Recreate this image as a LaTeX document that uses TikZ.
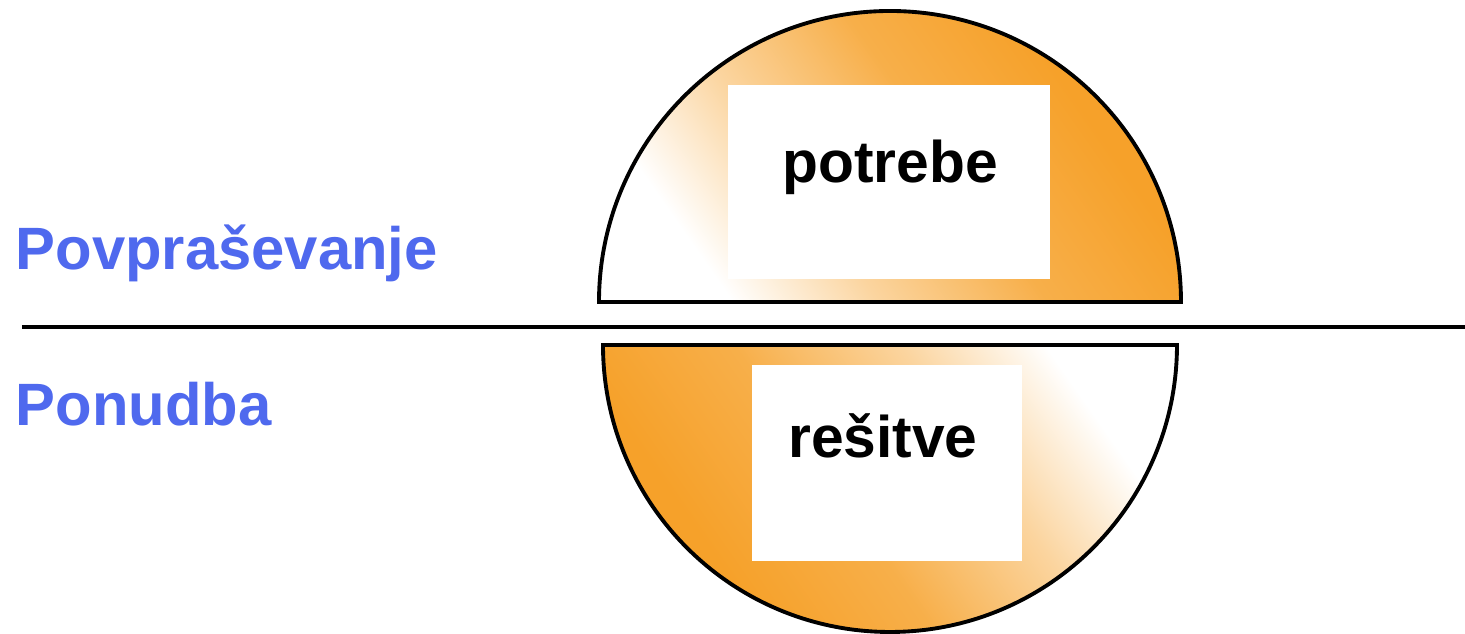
\documentclass[tikz,border=0pt]{standalone}
\usepackage{fontspec}
\setmainfont{Liberation Sans}
\usepackage{tikz}
\usetikzlibrary{positioning}
\definecolor{ddorange}{HTML}{F6A12A}
\definecolor{ddblue}{HTML}{4F69EE}
% white corner that turns orange quickly
\pgfdeclareverticalshading{glow}{100bp}{color(0bp)=(white); color(27bp)=(white);
  color(40bp)=(ddorange!45); color(55bp)=(ddorange!85); color(70bp)=(ddorange);
  color(100bp)=(ddorange)}
\pgfdeclareverticalshading{fade}{100bp}{color(0bp)=(ddorange); color(30bp)=(ddorange);
  color(45bp)=(ddorange!85); color(60bp)=(ddorange!45); color(73bp)=(white);
  color(100bp)=(white)}
\tikzset{
  halfdisk/.style={draw=black, line width=1.1pt},
  card/.style={fill=white, draw=none, inner sep=0pt},
  word/.style={font=\fontsize{16.7pt}{20pt}\selectfont\bfseries, inner sep=0pt},
  side/.style={font=\fontsize{17pt}{20pt}\selectfont\bfseries, text=ddblue,
    inner sep=0pt, anchor=base west},
}

\begin{document}
\begin{tikzpicture}[x=0.01cm, y=0.01cm]
    \useasboundingbox (0,0) rectangle (1465,634);
    % upper half: demand
    \shade[shading=glow, shading angle=-55]
      (599,332) arc[start angle=180, end angle=0, x radius=291, y radius=291] -- cycle;
    \draw[halfdisk]
      (599,332) arc[start angle=180, end angle=0, x radius=291, y radius=291] -- cycle;
    % lower half: supply
    \shade[shading=fade, shading angle=-55]
      (603,289) arc[start angle=180, end angle=360, x radius=287, y radius=287] -- cycle;
    \draw[halfdisk]
      (603,289) arc[start angle=180, end angle=360, x radius=287, y radius=287] -- cycle;
    \node[card, minimum width=3.22cm, minimum height=1.93cm] (needs) at (889,452) {};
    \node[card, minimum width=2.70cm, minimum height=1.95cm] (solutions) at (887,171) {};
    \node[word, anchor=base] (needstxt) at (890,451) {potrebe};
    \node[word, anchor=base] (solutionstxt) at (883,176) {rešitve};
    \coordinate (divl) at (22,307);
    \coordinate (divr) at (1465,307);
    \draw[line width=0.9pt] (divl) -- (divr);
    \node[side] (demand) at (15,364) {Povpraševanje};
    \node[side] (supply) at (15,208) {Ponudba};
  \end{tikzpicture}
\end{document}
